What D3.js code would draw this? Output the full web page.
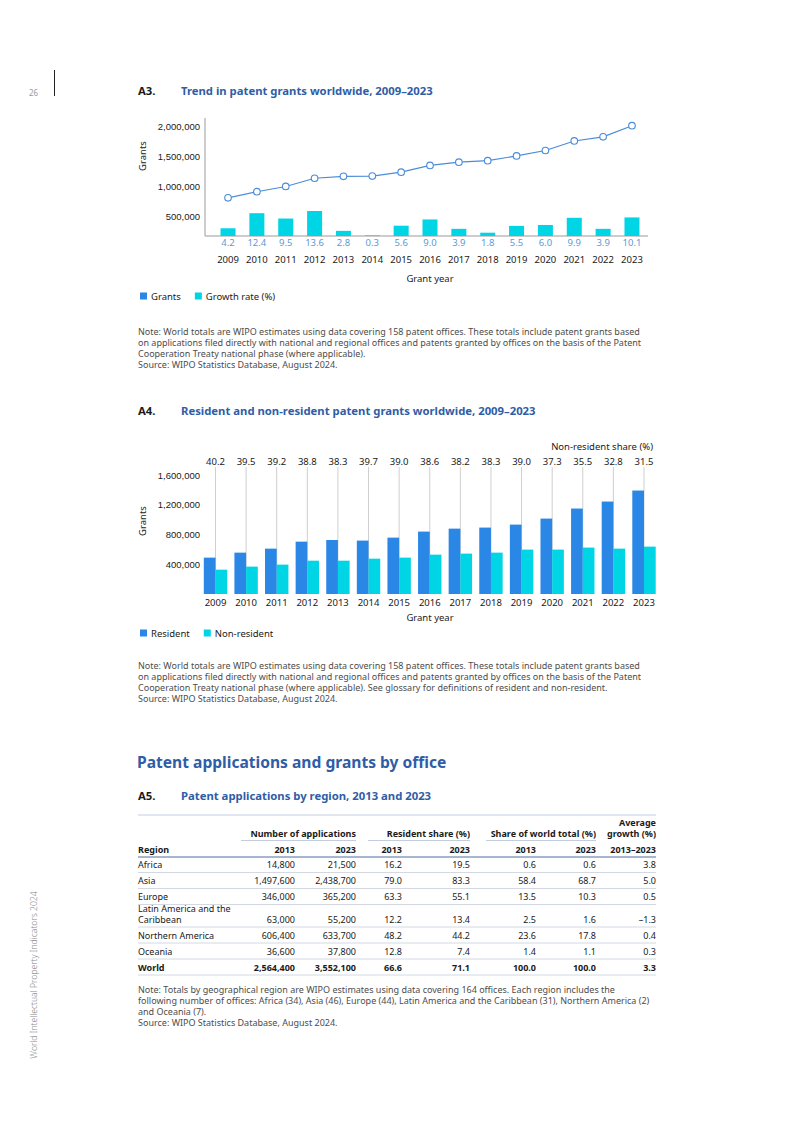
<!DOCTYPE html>
<html lang="en">
<head>
<meta charset="UTF-8">
<title>Patent grants worldwide</title>
<script src="https://d3js.org/d3.v7.min.js"></script>
<style>
  body { margin: 0; background: #fff; }
  svg { display: block; font-family: "Noto Sans", "Open Sans", sans-serif; }
  .title { font-size: 11.3px; font-weight: bold; fill: #2f5da6; }
  .num { font-size: 11.3px; font-weight: bold; fill: #1a1a1a; }
  .tick { font-size: 9.5px; fill: #1a1a1a; }
  .note { font-size: 9px; fill: #4d4d4d; }
  .cell { font-size: 9px; fill: #1a1a1a; }
  .bold { font-weight: bold; }
</style>
</head>
<body>

<div id="page"></div>

<script>

// data
const years = ["2009", "2010", "2011", "2012", "2013", "2014", "2015", "2016",
               "2017", "2018", "2019", "2020", "2021", "2022", "2023"];

// A3: total grants and growth rate
const grants = [815000, 916000, 1003000, 1139000, 1171000, 1175000, 1240000, 1352000,
                1405000, 1430000, 1509000, 1599000, 1757000, 1826000, 2010000];
const growth = [4.2, 12.4, 9.5, 13.6, 2.8, 0.3, 5.6, 9.0, 3.9, 1.8, 5.5, 6.0, 9.9, 3.9, 10.1];
const grantTicks = [500000, 1000000, 1500000, 2000000];

// A4: resident / non-resident grants
const resident = [489000, 556000, 610000, 704000, 726000, 718000, 758000, 839000,
                  879000, 893000, 933000, 1014000, 1149000, 1243000, 1391000];
const nonResident = [327000, 368000, 395000, 448000, 448000, 475000, 489000, 529000,
                     543000, 556000, 597000, 597000, 624000, 610000, 637000];
const nrShare = [40.2, 39.5, 39.2, 38.8, 38.3, 39.7, 39.0, 38.6, 38.2, 38.3, 39.0, 37.3, 35.5, 32.8, 31.5];
const residentTicks = [400000, 800000, 1200000, 1600000];

// A5: table
const regions = ["Africa", "Asia", "Europe", "Latin America and the Caribbean",
                 "Northern America", "Oceania", "World"];
const apps2013 = [14800, 1497600, 346000, 63000, 606400, 36600, 2564400];
const apps2023 = [21500, 2438700, 365200, 55200, 633700, 37800, 3552100];
const resShare2013 = [16.2, 79.0, 63.3, 12.2, 48.2, 12.8, 66.6];
const resShare2023 = [19.5, 83.3, 55.1, 13.4, 44.2, 7.4, 71.1];
const worldShare2013 = [0.6, 58.4, 13.5, 2.5, 23.6, 1.4, 100.0];
const worldShare2023 = [0.6, 68.7, 10.3, 1.6, 17.8, 1.1, 100.0];
const avgGrowth = [3.8, 5.0, 0.5, -1.3, 0.4, 0.3, 3.3];

const blue = "#2b87e6";
const cyan = "#00d5e6";
const lineBlue = "#4a8cd8";

const width = 793;
const height = 1122;

const svg = d3.select("#page")
  .append("svg")
    .attr("width", width)
    .attr("height", height);

// page furniture
svg.append("text")
  .attr("x", 29).attr("y", 96)
  .style("font-size", "8px").style("fill", "#999")
  .text("26");
svg.append("line")
  .attr("x1", 54.5).attr("x2", 54.5).attr("y1", 70).attr("y2", 96)
  .attr("stroke", "#222").attr("stroke-width", 1);
svg.append("text")
  .attr("transform", "translate(37,975) rotate(-90)")
  .attr("text-anchor", "middle")
  .style("font-size", "8.6px").style("fill", "#888").style("font-weight", 300)
  .text("World Intellectual Property Indicators 2024");

function heading(num, title, y) {
  svg.append("text").attr("class", "num").attr("x", 138).attr("y", y).text(num);
  svg.append("text").attr("class", "title").attr("x", 181).attr("y", y).text(title);
}

function note(lines, y) {
  svg.append("g").selectAll("text")
    .data(lines)
    .join("text")
      .attr("class", "note")
      .attr("x", 138)
      .attr("y", (d, i) => y + i * 11)
      .text(d => d);
}

function legend(items, y) {
  let x = 140;
  const g = svg.append("g");
  items.forEach(it => {
    g.append("rect").attr("x", x).attr("y", y - 7).attr("width", 7).attr("height", 7)
      .attr("fill", it.color);
    const t = g.append("text").attr("class", "tick").attr("x", x + 11).attr("y", y).text(it.label);
    x += 11 + t.node().getComputedTextLength() + 14;
  });
}

// ---------- A3 ----------
heading("A3.", "Trend in patent grants worldwide, 2009\u20132023", 95);

const x3 = d3.scaleBand().domain(years).range([213.6, 646.4]);
const y3 = d3.scaleLinear().domain([0, 2000000]).range([247, 126.3]);
const hBar = d3.scaleLinear().domain([0, 13.6]).range([0, 25]);
const base3 = 236;

// axis lines
svg.append("line").attr("x1", 205).attr("x2", 205).attr("y1", 118).attr("y2", base3)
  .attr("stroke", "#9a9a9a");
svg.append("line").attr("x1", 205).attr("x2", 648).attr("y1", base3).attr("y2", base3)
  .attr("stroke", "#9a9a9a");

svg.append("g")
  .attr("transform", "translate(200,0)")
  .call(d3.axisLeft(y3).tickValues(grantTicks).tickSize(0).tickPadding(0).tickFormat(d3.format(",")))
  .call(g => g.select(".domain").remove())
  .call(g => g.selectAll("text").attr("class", "tick").style("font-family", null).attr("font-size", null));

svg.append("text")
  .attr("class", "tick")
  .attr("transform", "translate(146,156) rotate(-90)")
  .attr("text-anchor", "middle")
  .text("Grants");

// growth bars
const bw3 = x3.bandwidth() * 0.52;
svg.append("g").selectAll("rect")
  .data(years)
  .join("rect")
    .attr("x", d => x3(d) + (x3.bandwidth() - bw3) / 2)
    .attr("y", (d, i) => base3 - hBar(growth[i]))
    .attr("width", bw3)
    .attr("height", (d, i) => hBar(growth[i]))
    .attr("fill", cyan);

// growth labels
svg.append("g").selectAll("text")
  .data(years)
  .join("text")
    .attr("class", "tick")
    .attr("x", d => x3(d) + x3.bandwidth() / 2)
    .attr("y", 245.5)
    .attr("text-anchor", "middle")
    .style("fill", "#5b9bd5")
    .text((d, i) => d3.format(".1f")(growth[i]));

// year labels
svg.append("g").selectAll("text")
  .data(years)
  .join("text")
    .attr("class", "tick")
    .attr("x", d => x3(d) + x3.bandwidth() / 2)
    .attr("y", 263)
    .attr("text-anchor", "middle")
    .text(d => d);

svg.append("text").attr("class", "tick")
  .attr("x", 430).attr("y", 282).attr("text-anchor", "middle").text("Grant year");

// grants line
const line3 = d3.line()
  .x((d, i) => x3(years[i]) + x3.bandwidth() / 2)
  .y(d => y3(d));
svg.append("path")
  .datum(grants)
  .attr("d", line3)
  .attr("fill", "none")
  .attr("stroke", lineBlue)
  .attr("stroke-width", 1.2);
svg.append("g").selectAll("circle")
  .data(grants)
  .join("circle")
    .attr("cx", (d, i) => x3(years[i]) + x3.bandwidth() / 2)
    .attr("cy", d => y3(d))
    .attr("r", 3.3)
    .attr("fill", "#fff")
    .attr("stroke", lineBlue)
    .attr("stroke-width", 1.1);

legend([{ label: "Grants", color: blue }, { label: "Growth rate (%)", color: cyan }], 299.5);

note([
  "Note: World totals are WIPO estimates using data covering 158 patent offices. These totals include patent grants based",
  "on applications filed directly with national and regional offices and patents granted by offices on the basis of the Patent",
  "Cooperation Treaty national phase (where applicable).",
  "Source: WIPO Statistics Database, August 2024."
], 335);

// ---------- A4 ----------
heading("A4.", "Resident and non-resident patent grants worldwide, 2009\u20132023", 415);

const x4 = d3.scaleBand().domain(years).range([200.2, 659.3]);
const y4 = d3.scaleLinear().domain([0, 1600000]).range([594, 475]);
const bw4 = 11.7;

svg.append("g")
  .attr("transform", "translate(200,0)")
  .call(d3.axisLeft(y4).tickValues(residentTicks).tickSize(0).tickPadding(0).tickFormat(d3.format(",")))
  .call(g => g.select(".domain").remove())
  .call(g => g.selectAll("text").attr("class", "tick").style("font-family", null).attr("font-size", null));

svg.append("text")
  .attr("class", "tick")
  .attr("transform", "translate(146,521) rotate(-90)")
  .attr("text-anchor", "middle")
  .text("Grants");

// guide lines from share labels
svg.append("g").selectAll("line")
  .data(years)
  .join("line")
    .attr("x1", d => x4(d) + x4.bandwidth() / 2)
    .attr("x2", d => x4(d) + x4.bandwidth() / 2)
    .attr("y1", 467)
    .attr("y2", y4(0))
    .attr("stroke", "#cfcfcf");

svg.append("g").selectAll("rect")
  .data(years)
  .join("rect")
    .attr("x", d => x4(d) + x4.bandwidth() / 2 - bw4)
    .attr("y", (d, i) => y4(resident[i]))
    .attr("width", bw4)
    .attr("height", (d, i) => y4(0) - y4(resident[i]))
    .attr("fill", blue);

svg.append("g").selectAll("rect")
  .data(years)
  .join("rect")
    .attr("x", d => x4(d) + x4.bandwidth() / 2)
    .attr("y", (d, i) => y4(nonResident[i]))
    .attr("width", bw4)
    .attr("height", (d, i) => y4(0) - y4(nonResident[i]))
    .attr("fill", cyan);

svg.append("text").attr("class", "tick")
  .attr("x", 653).attr("y", 450).attr("text-anchor", "end").text("Non-resident share (%)");

svg.append("g").selectAll("text")
  .data(years)
  .join("text")
    .attr("class", "tick")
    .attr("x", d => x4(d) + x4.bandwidth() / 2)
    .attr("y", 464.5)
    .attr("text-anchor", "middle")
    .text((d, i) => d3.format(".1f")(nrShare[i]));

svg.append("g").selectAll("text")
  .data(years)
  .join("text")
    .attr("class", "tick")
    .attr("x", d => x4(d) + x4.bandwidth() / 2)
    .attr("y", 606)
    .attr("text-anchor", "middle")
    .text(d => d);

svg.append("text").attr("class", "tick")
  .attr("x", 430).attr("y", 620.5).attr("text-anchor", "middle").text("Grant year");

legend([{ label: "Resident", color: blue }, { label: "Non-resident", color: cyan }], 636.5);

note([
  "Note: World totals are WIPO estimates using data covering 158 patent offices. These totals include patent grants based",
  "on applications filed directly with national and regional offices and patents granted by offices on the basis of the Patent",
  "Cooperation Treaty national phase (where applicable). See glossary for definitions of resident and non-resident.",
  "Source: WIPO Statistics Database, August 2024."
], 669);

// ---------- section + A5 ----------
svg.append("text")
  .attr("x", 137).attr("y", 768)
  .style("font-size", "15.6px").style("font-weight", "bold").style("fill", "#2f5da6")
  .text("Patent applications and grants by office");

heading("A5.", "Patent applications by region, 2013 and 2023", 800);

const tLeft = 138, tRight = 656;
const colRight = [295, 356, 402, 470, 536, 596, 656];
const groups = [
  { label: "Number of applications", x0: 241, x1: 356 },
  { label: "Resident share (%)", x0: 368, x1: 470 },
  { label: "Share of world total (%)", x0: 486, x1: 596 }
];
const subHeads = ["2013", "2023", "2013", "2023", "2013", "2023", "2013\u20132023"];

svg.append("line").attr("x1", tLeft).attr("x2", tRight).attr("y1", 815).attr("y2", 815)
  .attr("stroke", "#c3cde0").attr("stroke-width", 1);

const tg = svg.append("g");
groups.forEach(gr => {
  tg.append("text").attr("class", "cell bold")
    .attr("x", gr.x1).attr("y", 836.5).attr("text-anchor", "end").text(gr.label);
  tg.append("line").attr("x1", gr.x0).attr("x2", gr.x1).attr("y1", 840.5).attr("y2", 840.5)
    .attr("stroke", "#c3cde0");
});
tg.append("text").attr("class", "cell bold").attr("x", tRight).attr("y", 825.5)
  .attr("text-anchor", "end").text("Average");
tg.append("text").attr("class", "cell bold").attr("x", tRight).attr("y", 837)
  .attr("text-anchor", "end").text("growth (%)");

tg.append("text").attr("class", "cell bold").attr("x", tLeft).attr("y", 853).text("Region");
tg.selectAll("text.sub")
  .data(subHeads)
  .join("text")
    .attr("class", "cell bold sub")
    .attr("x", (d, i) => colRight[i])
    .attr("y", 853)
    .attr("text-anchor", "end")
    .text(d => d);
tg.append("line").attr("x1", tLeft).attr("x2", tRight).attr("y1", 857).attr("y2", 857)
  .attr("stroke", "#4f6f9f").attr("stroke-width", 1);

const fmtInt = d3.format(",");
const fmt1 = v => (v < 0 ? "\u2013" + d3.format(".1f")(-v) : d3.format(".1f")(v));
const rowH = [15.5, 16, 16, 22.5, 16, 16, 16];
let rowTop = 857;
regions.forEach((r, i) => {
  const h = rowH[i];
  const yb = rowTop + h - 4.5;
  const cls = i === regions.length - 1 ? "cell bold" : "cell";
  if (r === "Latin America and the Caribbean") {
    tg.append("text").attr("class", cls).attr("x", tLeft).attr("y", yb - 11).text("Latin America and the");
    tg.append("text").attr("class", cls).attr("x", tLeft).attr("y", yb).text("Caribbean");
  } else {
    tg.append("text").attr("class", cls).attr("x", tLeft).attr("y", yb).text(r);
  }
  const vals = [fmtInt(apps2013[i]), fmtInt(apps2023[i]), fmt1(resShare2013[i]), fmt1(resShare2023[i]),
                fmt1(worldShare2013[i]), fmt1(worldShare2023[i]), fmt1(avgGrowth[i])];
  vals.forEach((v, j) => {
    tg.append("text").attr("class", cls).attr("x", colRight[j]).attr("y", yb)
      .attr("text-anchor", "end").text(v);
  });
  rowTop += h;
  tg.append("line").attr("x1", tLeft).attr("x2", tRight).attr("y1", rowTop).attr("y2", rowTop)
    .attr("stroke", "#d3d8e2").attr("stroke-width", 1);
});

note([
  "Note: Totals by geographical region are WIPO estimates using data covering 164 offices. Each region includes the",
  "following number of offices: Africa (34), Asia (46), Europe (44), Latin America and the Caribbean (31), Northern America (2)",
  "and Oceania (7).",
  "Source: WIPO Statistics Database, August 2024."
], 993);

</script>

</body>
</html>
